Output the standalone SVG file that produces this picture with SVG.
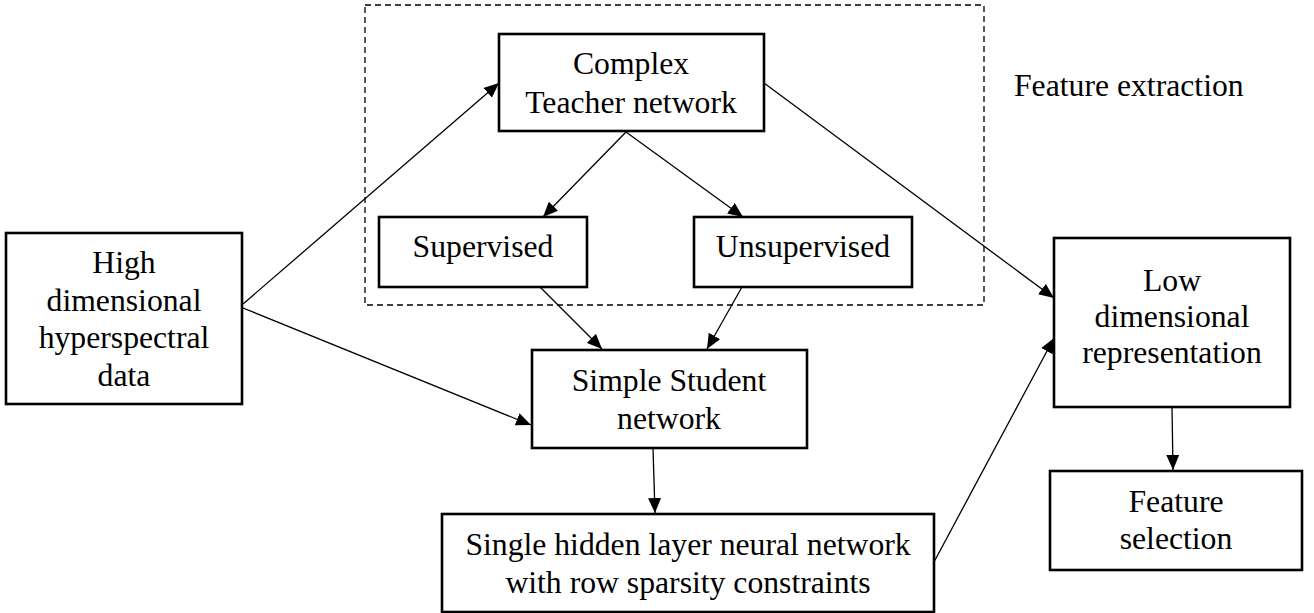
<svg xmlns="http://www.w3.org/2000/svg" width="1314" height="613" viewBox="0 0 1314 613">
  <style>
    .box { fill: #ffffff; stroke: #000000; stroke-width: 2.6; }
    .lbl { font-family: "Liberation Serif", "Times New Roman", serif; font-size: 31.7px; fill: #000000; text-anchor: middle; }
    .free { font-family: "Liberation Serif", "Times New Roman", serif; font-size: 31.7px; fill: #000000; }
    .edge { fill: none; stroke: #000000; stroke-width: 1.3; marker-end: url(#arrow); }
    .frame { fill: none; stroke: #000000; stroke-width: 1.3; stroke-dasharray: 6 4; }
  </style>
  <defs>
    <marker id="arrow" markerUnits="userSpaceOnUse" markerWidth="15" markerHeight="13" refX="15" refY="6.5" orient="auto">
      <path d="M0,0 L15,6.5 L0,13 Z" fill="#000000"/>
    </marker>
  </defs>

  <rect width="1314" height="613" fill="#ffffff"/>

  <!-- feature extraction region -->
  <g id="feature-extraction">
    <rect class="frame" x="365" y="5" width="619" height="300"/>
    <text class="free" x="1014" y="96">Feature extraction</text>
  </g>

  <!-- connectors -->
  <g id="connectors">
    <line class="edge" x1="243" y1="304" x2="499" y2="83"/>
    <line class="edge" x1="243" y1="308" x2="531" y2="425"/>
    <line class="edge" x1="626" y1="132" x2="543" y2="217"/>
    <line class="edge" x1="626" y1="132" x2="743" y2="217"/>
    <line class="edge" x1="764" y1="83" x2="1054" y2="298"/>
    <line class="edge" x1="540" y1="287" x2="602" y2="349"/>
    <line class="edge" x1="742" y1="287" x2="707" y2="349"/>
    <line class="edge" x1="653" y1="448" x2="655" y2="513"/>
    <line class="edge" x1="934" y1="562" x2="1054" y2="338"/>
    <line class="edge" x1="1172" y1="407" x2="1173" y2="470"/>
  </g>

  <g id="high-dimensional-data">
    <rect class="box" x="6" y="233" width="236" height="171"/>
    <text class="lbl" x="124" y="273">High</text>
    <text class="lbl" x="124" y="311">dimensional</text>
    <text class="lbl" x="124" y="348">hyperspectral</text>
    <text class="lbl" x="124" y="386">data</text>
  </g>

  <g id="teacher-network">
    <rect class="box" x="499" y="34" width="265" height="97"/>
    <text class="lbl" x="631" y="74">Complex</text>
    <text class="lbl" x="631" y="113">Teacher network</text>
  </g>

  <g id="supervised">
    <rect class="box" x="379" y="217" width="208" height="70"/>
    <text class="lbl" x="483" y="257">Supervised</text>
  </g>

  <g id="unsupervised">
    <rect class="box" x="694" y="217" width="218" height="70"/>
    <text class="lbl" x="803" y="257">Unsupervised</text>
  </g>

  <g id="student-network">
    <rect class="box" x="532" y="350" width="275" height="98"/>
    <text class="lbl" x="669" y="391">Simple Student</text>
    <text class="lbl" x="669" y="429">network</text>
  </g>

  <g id="single-hidden-layer">
    <rect class="box" x="442" y="514" width="492" height="98"/>
    <text class="lbl" x="688" y="555">Single hidden layer neural network</text>
    <text class="lbl" x="688" y="593">with row sparsity constraints</text>
  </g>

  <g id="low-dimensional">
    <rect class="box" x="1054" y="238" width="236" height="169"/>
    <text class="lbl" x="1172" y="291">Low</text>
    <text class="lbl" x="1172" y="327">dimensional</text>
    <text class="lbl" x="1172" y="363">representation</text>
  </g>

  <g id="feature-selection">
    <rect class="box" x="1050" y="471" width="252" height="99"/>
    <text class="lbl" x="1176" y="512">Feature</text>
    <text class="lbl" x="1176" y="549">selection</text>
  </g>
</svg>
